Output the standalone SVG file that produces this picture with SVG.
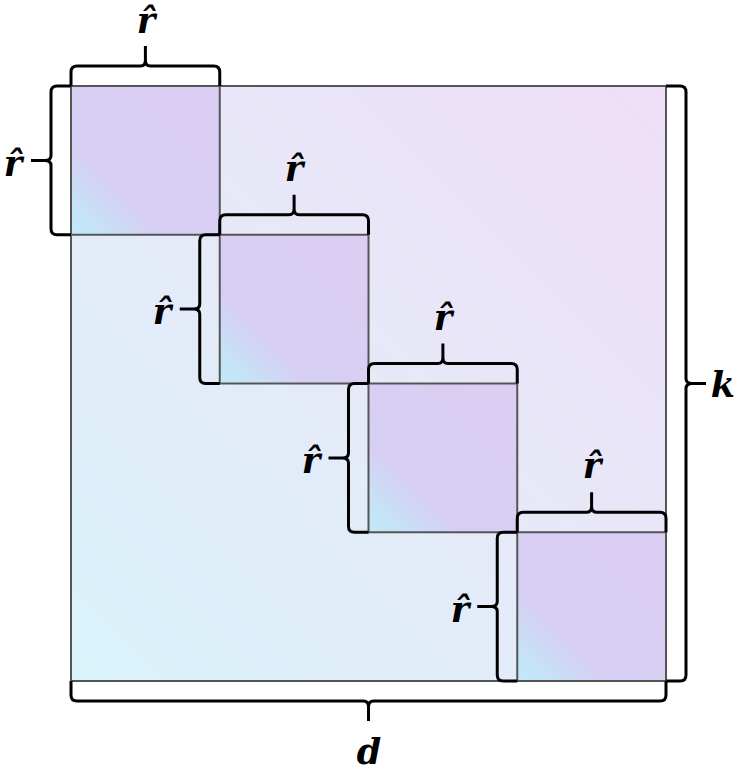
<svg xmlns="http://www.w3.org/2000/svg" width="740" height="772" viewBox="0 0 740 772">
<defs>
<linearGradient id="gBig" x1="0" y1="1" x2="1" y2="0">
<stop offset="0" stop-color="#d8f3fb"/>
<stop offset="0.5" stop-color="#e6e9f8"/>
<stop offset="1" stop-color="#efdef8"/>
</linearGradient>
<linearGradient id="gBlk" x1="0" y1="1" x2="1" y2="0">
<stop offset="0" stop-color="#bfeaf8"/>
<stop offset="0.12" stop-color="#c6e2f6"/>
<stop offset="0.3" stop-color="#d6cff3"/>
<stop offset="1" stop-color="#ddcdf3"/>
</linearGradient>
<style>
.mat{fill:url(#gBig);stroke:#555;stroke-width:2}
.blk{fill:url(#gBlk);stroke:#555;stroke-width:2}
.brace{fill:none;stroke:#000;stroke-width:3;stroke-linejoin:round;stroke-linecap:butt}
.lbl{font-family:"DejaVu Serif","Liberation Serif",serif;font-weight:bold;font-style:italic;font-size:35px;text-anchor:middle;fill:#000}
</style>
</defs>
<g id="matrix">
<rect class="mat" x="71" y="86" width="595" height="595"/>
</g>
<g id="block1"><rect class="blk" x="71" y="86" width="148.75" height="148.75"/></g>
<g id="block2"><rect class="blk" x="219.75" y="234.75" width="148.75" height="148.75"/></g>
<g id="block3"><rect class="blk" x="368.5" y="383.5" width="148.75" height="148.75"/></g>
<g id="block4"><rect class="blk" x="517.25" y="532.25" width="148.75" height="148.75"/></g>
<g id="braces">
<path class="brace" d="M71,86 V72 Q71,66 77,66 H140.4 Q145.4,66 145.4,60 V46 M145.4,60 Q145.4,66 150.4,66 H213.75 Q219.75,66 219.75,72 V86"/>
<path class="brace" d="M219.75,234.75 V220.75 Q219.75,214.75 225.75,214.75 H289.1 Q294.1,214.75 294.1,208.75 V194.75 M294.1,208.75 Q294.1,214.75 299.1,214.75 H362.5 Q368.5,214.75 368.5,220.75 V234.75"/>
<path class="brace" d="M368.5,383.5 V369.5 Q368.5,363.5 374.5,363.5 H437.9 Q442.9,363.5 442.9,357.5 V343.5 M442.9,357.5 Q442.9,363.5 447.9,363.5 H511.25 Q517.25,363.5 517.25,369.5 V383.5"/>
<path class="brace" d="M517.25,532.25 V518.25 Q517.25,512.25 523.25,512.25 H586.6 Q591.6,512.25 591.6,506.25 V492.25 M591.6,506.25 Q591.6,512.25 596.6,512.25 H660 Q666,512.25 666,518.25 V532.25"/>
<path class="brace" d="M71,86 H57 Q51,86 51,92 V155.4 Q51,160.4 45,160.4 H31 M45,160.4 Q51,160.4 51,165.4 V228.75 Q51,234.75 57,234.75 H71"/>
<path class="brace" d="M219.75,234.75 H205.75 Q199.75,234.75 199.75,240.75 V304.1 Q199.75,309.1 193.75,309.1 H179.75 M193.75,309.1 Q199.75,309.1 199.75,314.1 V377.5 Q199.75,383.5 205.75,383.5 H219.75"/>
<path class="brace" d="M368.5,383.5 H354.5 Q348.5,383.5 348.5,389.5 V452.9 Q348.5,457.9 342.5,457.9 H328.5 M342.5,457.9 Q348.5,457.9 348.5,462.9 V526.25 Q348.5,532.25 354.5,532.25 H368.5"/>
<path class="brace" d="M517.25,532.25 H503.25 Q497.25,532.25 497.25,538.25 V601.6 Q497.25,606.6 491.25,606.6 H477.25 M491.25,606.6 Q497.25,606.6 497.25,611.6 V675 Q497.25,681 503.25,681 H517.25"/>
<path class="brace" d="M666,86 H680 Q686,86 686,92 V378.5 Q686,383.5 692,383.5 H706 M692,383.5 Q686,383.5 686,388.5 V675 Q686,681 680,681 H666"/>
<path class="brace" d="M71,681 V695 Q71,701 77,701 H363.5 Q368.5,701 368.5,707 V721 M368.5,707 Q368.5,701 373.5,701 H660 Q666,701 666,695 V681"/>
</g>
<g id="labels">
<text class="lbl" x="146" y="33">r̂</text>
<text class="lbl" x="294" y="181">r̂</text>
<text class="lbl" x="443" y="330">r̂</text>
<text class="lbl" x="592" y="478">r̂</text>
<text class="lbl" x="13" y="176">r̂</text>
<text class="lbl" x="162" y="324">r̂</text>
<text class="lbl" x="311" y="473">r̂</text>
<text class="lbl" x="460" y="622">r̂</text>
<text class="lbl" x="723" y="397">k</text>
<text class="lbl" x="369" y="764">d</text>
</g>
</svg>
